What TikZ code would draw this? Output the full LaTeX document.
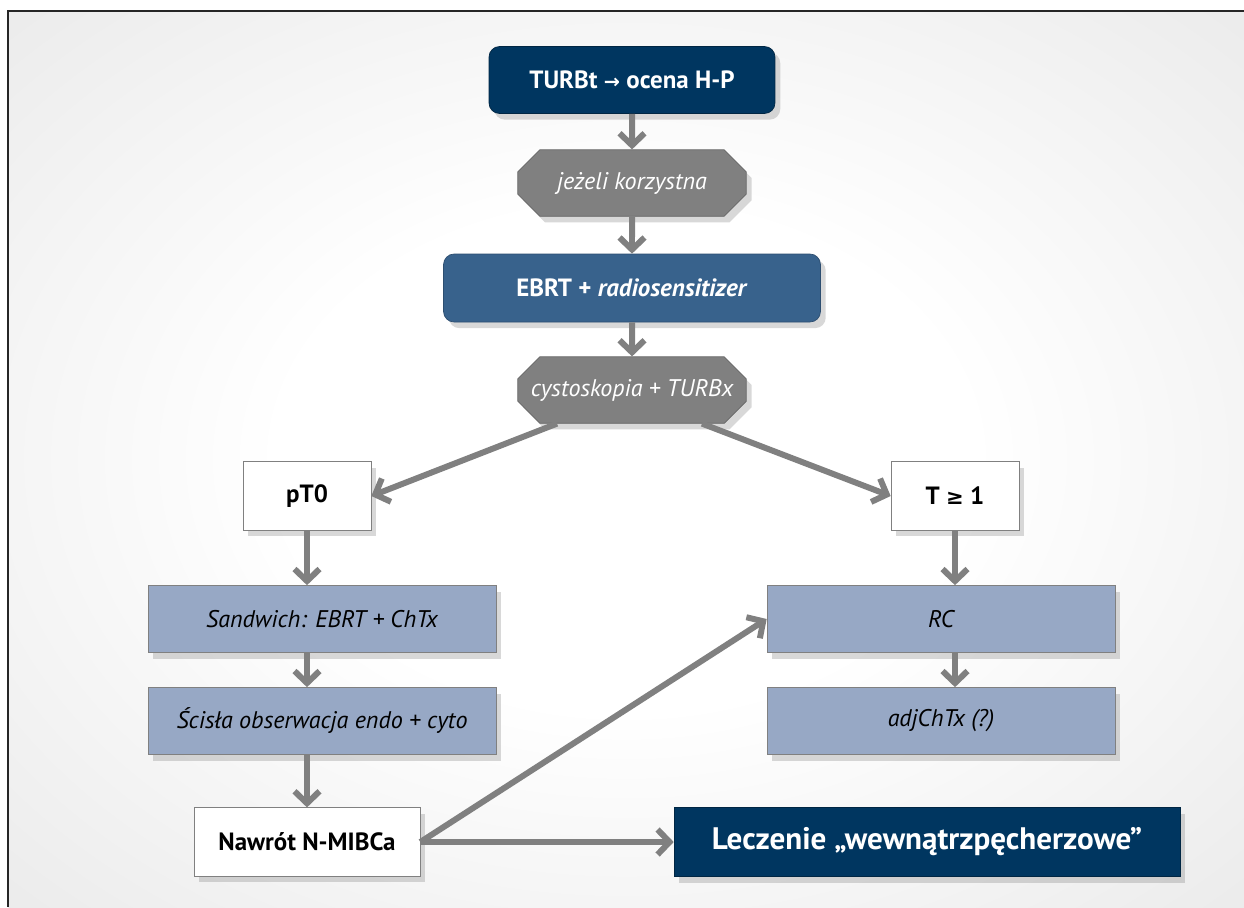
\documentclass[tikz,border=0pt]{standalone}
\usepackage{fontspec}
\setmainfont{PT Sans}
\newfontfamily\arrowfont{DejaVu Sans}
\usepackage{xcolor}
\usetikzlibrary{arrows.meta, positioning, shapes.misc, shadows}

\definecolor{navy}{RGB}{0,54,96}
\definecolor{steel}{RGB}{56,98,140}
\definecolor{lavender}{RGB}{151,168,197}
\definecolor{stone}{RGB}{128,128,128}
\definecolor{bggray}{RGB}{222,222,222}
\pgfdeclareradialshading{bgglow}{\pgfpoint{0bp}{0bp}}{color(0bp)=(white); color(14bp)=(white); color(50bp)=(bggray); color(70bp)=(bggray)}

\begin{document}
\begin{tikzpicture}[x=0.02cm, y=-0.02cm,
    shade/.style={drop shadow={opacity=0.3, shadow xshift=3pt, shadow yshift=-3.5pt}},
    topbox/.style={rectangle, rounded corners=6pt, draw=navy!70!black, fill=navy, text=white,
                   inner sep=0pt, font=\fontsize{14.2}{17}\selectfont\bfseries, shade},
    midbox/.style={rectangle, rounded corners=6pt, draw=steel!80!black, fill=steel, text=white,
                   inner sep=0pt, font=\fontsize{14.2}{17}\selectfont\bfseries, shade},
    cond/.style={chamfered rectangle, chamfered rectangle xsep=0.22cm, chamfered rectangle ysep=0.22cm,
                 draw=stone!80!black, fill=stone, text=white, inner sep=0pt,
                 minimum width=4.57cm, minimum height=1.33cm,
                 font=\fontsize{13.7}{16}\selectfont\itshape, shade},
    stage/.style={rectangle, draw=stone, fill=white, inner sep=0pt, minimum height=1.37cm,
                  font=\fontsize{14.2}{17}\selectfont\bfseries, shade},
    treat/.style={rectangle, draw=stone, fill=lavender, inner sep=0pt,
                  minimum width=6.96cm, minimum height=1.34cm,
                  font=\fontsize{13.7}{16}\selectfont\itshape, shade},
    arr/.style={-{Straight Barb[length=0.24cm, width=0.5cm]}, line width=3.4pt, draw=stone}
]
% background and frame
\fill[shading=bgglow] (8,11) rectangle (1244,907);
\useasboundingbox (0,0) rectangle (1244,907);
\draw[line width=1.2pt, black!85] (8,907) -- (8,11) -- (1244,11);

\node[topbox, minimum width=5.72cm, minimum height=1.34cm] (turbt) at (632,80)
    {TURBt {\arrowfont\fontsize{11}{13}\selectfont →} ocena H-P};
\node[cond]   (korzyst) at (632,183) {jeżeli korzystna};
\node[midbox, minimum width=7.54cm, minimum height=1.36cm] (ebrt) at (632,288)
    {EBRT + \textit{radiosensitizer}};
\node[cond]   (cysto) at (632,390) {cystoskopia + TURBx};

\node[stage, minimum width=2.56cm] (pt0) at (307,496) {pT0};
\node[stage, minimum width=2.56cm] (t1)  at (955,496) {T {\arrowfont\bfseries\fontsize{12}{14}\selectfont ≥} 1};

\node[treat] (sandw)  at (322,619) {Sandwich: EBRT + ChTx};
\node[treat] (scisla) at (322,721) {Ścisła obserwacja endo + cyto};
\node[treat] (rc)     at (941,619) {RC};
\node[treat] (adj)    at (941,721) {adjChTx (?)};

\node[stage, minimum width=4.52cm] (nawrot) at (307,842) {Nawrót N-MIBCa};
\node[topbox, rounded corners=0pt, minimum width=10.12cm, minimum height=1.38cm,
      font=\fontsize{17.7}{20}\selectfont\bfseries] (leczenie) at (927,842)
    {Leczenie „wewnątrzpęcherzowe”};

\draw[arr] (turbt) -- (korzyst);
\draw[arr] (korzyst) -- (ebrt);
\draw[arr] (ebrt) -- (cysto);
\draw[arr] ([xshift=-1.5cm]cysto.south) -- (pt0.east);
\draw[arr] ([xshift=1.4cm]cysto.south) -- (t1.west);
\draw[arr] (pt0.south) -- (pt0.south |- sandw.north);
\draw[arr] (pt0.south |- sandw.south) -- (pt0.south |- scisla.north);
\draw[arr] (pt0.south |- scisla.south) -- (nawrot.north);
\draw[arr] (t1.south) -- (t1.south |- rc.north);
\draw[arr] (t1.south |- rc.south) -- (t1.south |- adj.north);
\draw[arr] (nawrot.east) -- (leczenie.west);
\draw[arr] (nawrot.east) -- (rc.west);
\end{tikzpicture}
\end{document}
